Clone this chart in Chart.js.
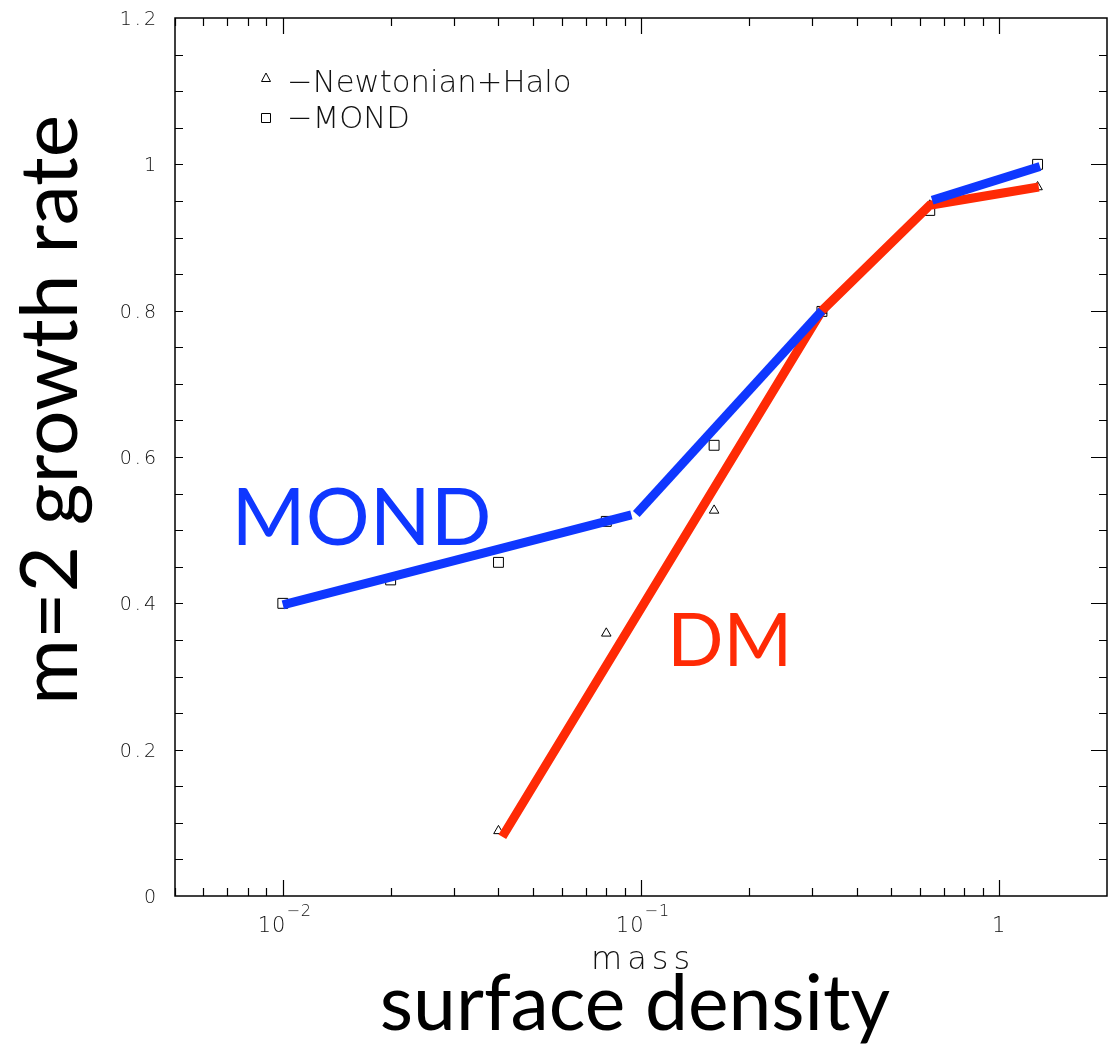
<!DOCTYPE html>
<html>
<head>
<meta charset="utf-8">
<script src="https://cdn.jsdelivr.net/npm/chart.js@4.4.1/dist/chart.umd.min.js"></script>
<style>
  body { margin: 0; background: #fff; }
  #wrap { width: 1115px; height: 1052px; position: relative; }
</style>
</head>
<body>
<div id="wrap"><canvas id="myChart"></canvas></div>
<script>
// measured points (mass, growth rate)
var mondMass = [0.01, 0.02, 0.04, 0.08, 0.16, 0.32, 0.64, 1.28];
var mondRate = [0.400, 0.432, 0.456, 0.512, 0.616, 0.799, 0.937, 1.000];
var newtonMass = [0.04, 0.08, 0.16, 0.32, 0.64, 1.28];
var newtonRate = [0.089, 0.359, 0.527, 0.800, 0.944, 0.969];

// thick hand drawn lines
var mondLineMassA = [0.01, 0.094];
var mondLineRateA = [0.398, 0.521];
var mondLineMassB = [0.097, 0.32];
var mondLineRateB = [0.522, 0.800];
var mondLineMassC = [0.65, 1.30];
var mondLineRateC = [0.951, 0.997];
var dmLineMass = [0.041, 0.32, 0.64, 1.29];
var dmLineRate = [0.081, 0.800, 0.944, 0.969];

// axes
var xMajor = [0.01, 0.1, 1];
var xMajorBase = ['10', '10', '1'];
var xMajorExp = ['\u22122', '\u22121', ''];
var yTicks = [0, 0.2, 0.4, 0.6, 0.8, 1, 1.2];
var yTickLabels = ['0', '0.2', '0.4', '0.6', '0.8', '1', '1.2'];

var BLUE = '#0f37ff';
var RED = '#ff2a05';
var THIN = '200 ';
var THIN_FAMILY = '"DejaVu Sans", "Liberation Sans", sans-serif';
var BIG_FAMILY = 'Lato, "Open Sans", sans-serif';

function pts(xs, ys) {
  var out = [];
  for (var i in xs) {
    out.push({x: xs[i], y: ys[i]});
  }
  return out;
}

function thickLine(xs, ys, color, order) {
  return {
    data: pts(xs, ys),
    borderColor: color,
    borderWidth: 9,
    borderCapStyle: 'butt',
    pointRadius: 0,
    fill: false,
    tension: 0,
    order: order
  };
}

// font size so that text fills a given width
function fitSize(ctx, text, weight, family, width) {
  ctx.font = weight + '100px ' + family;
  return 100 * width / ctx.measureText(text).width;
}

var frame = {
  id: 'frame',
  afterDraw: function(chart) {
    var ctx = chart.ctx;
    var a = chart.chartArea;
    var xs = chart.scales.x;
    var ys = chart.scales.y;
    ctx.save();

    // box
    ctx.strokeStyle = '#000';
    ctx.lineWidth = 1.5;
    ctx.strokeRect(a.left, a.top, a.right - a.left, a.bottom - a.top);

    // x ticks, bottom and top
    ctx.lineWidth = 1.2;
    ctx.beginPath();
    for (var e = -3; e <= 0; e++) {
      for (var m = 1; m <= 9; m++) {
        var v = m * Math.pow(10, e);
        if (v < xs.min || v >= xs.max) continue;
        var px = Math.round(xs.getPixelForValue(v)) + 0.5;
        var len = (m == 1) ? 16 : 8;
        ctx.moveTo(px, a.bottom); ctx.lineTo(px, a.bottom - len);
        ctx.moveTo(px, a.top); ctx.lineTo(px, a.top + len);
      }
    }
    // y ticks every 0.05
    for (var k = 1; k < 24; k++) {
      var py = Math.round(ys.getPixelForValue(k * 0.05)) + 0.5;
      var major = (k % 4 == 0);
      ctx.moveTo(a.left, py); ctx.lineTo(a.left + 8, py);
      ctx.moveTo(a.right, py); ctx.lineTo(a.right - (major ? 16 : 8), py);
    }
    ctx.stroke();

    // tick labels
    ctx.fillStyle = '#111';
    ctx.textBaseline = 'alphabetic';
    ctx.font = THIN + '19px ' + THIN_FAMILY;
    ctx.letterSpacing = '3px';
    ctx.textAlign = 'right';
    for (var i in yTicks) {
      var yy = ys.getPixelForValue(yTicks[i]);
      ctx.fillText(yTickLabels[i], 159, yy + 7);
    }
    for (var j in xMajor) {
      var xx = xs.getPixelForValue(xMajor[j]);
      ctx.font = THIN + '21px ' + THIN_FAMILY;
      ctx.letterSpacing = '1px';
      ctx.textAlign = 'left';
      var bw = ctx.measureText(xMajorBase[j]).width;
      var ew = 0;
      if (xMajorExp[j]) {
        ctx.font = THIN + '16px ' + THIN_FAMILY;
        ew = ctx.measureText(xMajorExp[j]).width;
      }
      var x0 = xx - (bw + ew) / 2 + (ew ? 2 : 0);
      ctx.font = THIN + '21px ' + THIN_FAMILY;
      ctx.fillText(xMajorBase[j], x0, 932);
      if (ew) {
        ctx.font = THIN + '16px ' + THIN_FAMILY;
        ctx.fillText(xMajorExp[j], x0 + bw, 916);
      }
    }

    // small axis label
    ctx.letterSpacing = '5px';
    ctx.textAlign = 'left';
    ctx.font = THIN + '32px ' + THIN_FAMILY;
    ctx.fillText('mass', 591, 969);

    // legend
    ctx.letterSpacing = '0px';
    ctx.strokeStyle = '#000';
    ctx.lineWidth = 1;
    ctx.beginPath();
    ctx.moveTo(266, 73); ctx.lineTo(270.5, 81.5); ctx.lineTo(261.5, 81.5); ctx.closePath();
    ctx.rect(261.5, 113.5, 9, 9);
    ctx.stroke();
    var ls = fitSize(ctx, '\u2212Newtonian+Halo', THIN, THIN_FAMILY, 285);
    ctx.font = THIN + ls.toFixed(1) + 'px ' + THIN_FAMILY;
    ctx.fillText('\u2212Newtonian+Halo', 287, 92);
    ctx.fillText('\u2212MOND', 287, 128);

    // big labels
    ctx.fillStyle = '#000';
    var s1 = fitSize(ctx, 'surface density', '', BIG_FAMILY, 510);
    ctx.font = s1.toFixed(1) + 'px ' + BIG_FAMILY;
    ctx.textAlign = 'center';
    ctx.fillText('surface density', 635, 1030);

    ctx.save();
    ctx.translate(77, 410);
    ctx.rotate(-Math.PI / 2);
    var s2 = fitSize(ctx, 'm=2 growth rate', '', BIG_FAMILY, 590);
    ctx.font = s2.toFixed(1) + 'px ' + BIG_FAMILY;
    ctx.textAlign = 'center';
    ctx.fillText('m=2 growth rate', 0, 0);
    ctx.restore();

    // curve names, anchored in data space
    ctx.textAlign = 'left';
    ctx.fillStyle = BLUE;
    var s3 = fitSize(ctx, 'MOND', '', BIG_FAMILY, 260);
    ctx.font = s3.toFixed(1) + 'px ' + BIG_FAMILY;
    ctx.fillText('MOND', xs.getPixelForValue(0.00719), ys.getPixelForValue(0.4795));
    ctx.fillStyle = RED;
    var s4 = fitSize(ctx, 'DM', '', BIG_FAMILY, 125);
    ctx.font = s4.toFixed(1) + 'px ' + BIG_FAMILY;
    ctx.fillText('DM', xs.getPixelForValue(0.1184), ys.getPixelForValue(0.314));

    ctx.restore();
  }
};

var ctx = document.getElementById('myChart');

var chart = new Chart(ctx, {
  type: 'line',
  data: {
    datasets: [
      {
        data: pts(mondMass, mondRate),
        showLine: false,
        pointStyle: 'rect',
        pointRadius: 7,
        pointBorderWidth: 1,
        pointBorderColor: '#000',
        pointBackgroundColor: 'rgba(0,0,0,0)',
        order: 5
      },
      {
        data: pts(newtonMass, newtonRate),
        showLine: false,
        pointStyle: 'triangle',
        pointRadius: 5.5,
        pointBorderWidth: 1,
        pointBorderColor: '#000',
        pointBackgroundColor: 'rgba(0,0,0,0)',
        order: 5
      },
      thickLine(dmLineMass, dmLineRate, RED, 3),
      thickLine(mondLineMassA, mondLineRateA, BLUE, 1),
      thickLine(mondLineMassB, mondLineRateB, BLUE, 1),
      thickLine(mondLineMassC, mondLineRateC, BLUE, 1)
    ]
  },
  options: {
    responsive: true,
    maintainAspectRatio: false,
    animation: false,
    layout: { padding: { left: 175, top: 18, right: 7, bottom: 156 } },
    plugins: { legend: { display: false }, tooltip: { enabled: false } },
    scales: {
      x: { type: 'logarithmic', min: 0.005, max: 2, display: false },
      y: { type: 'linear', min: 0, max: 1.2, display: false }
    }
  },
  plugins: [frame]
});
</script>
</body>
</html>
